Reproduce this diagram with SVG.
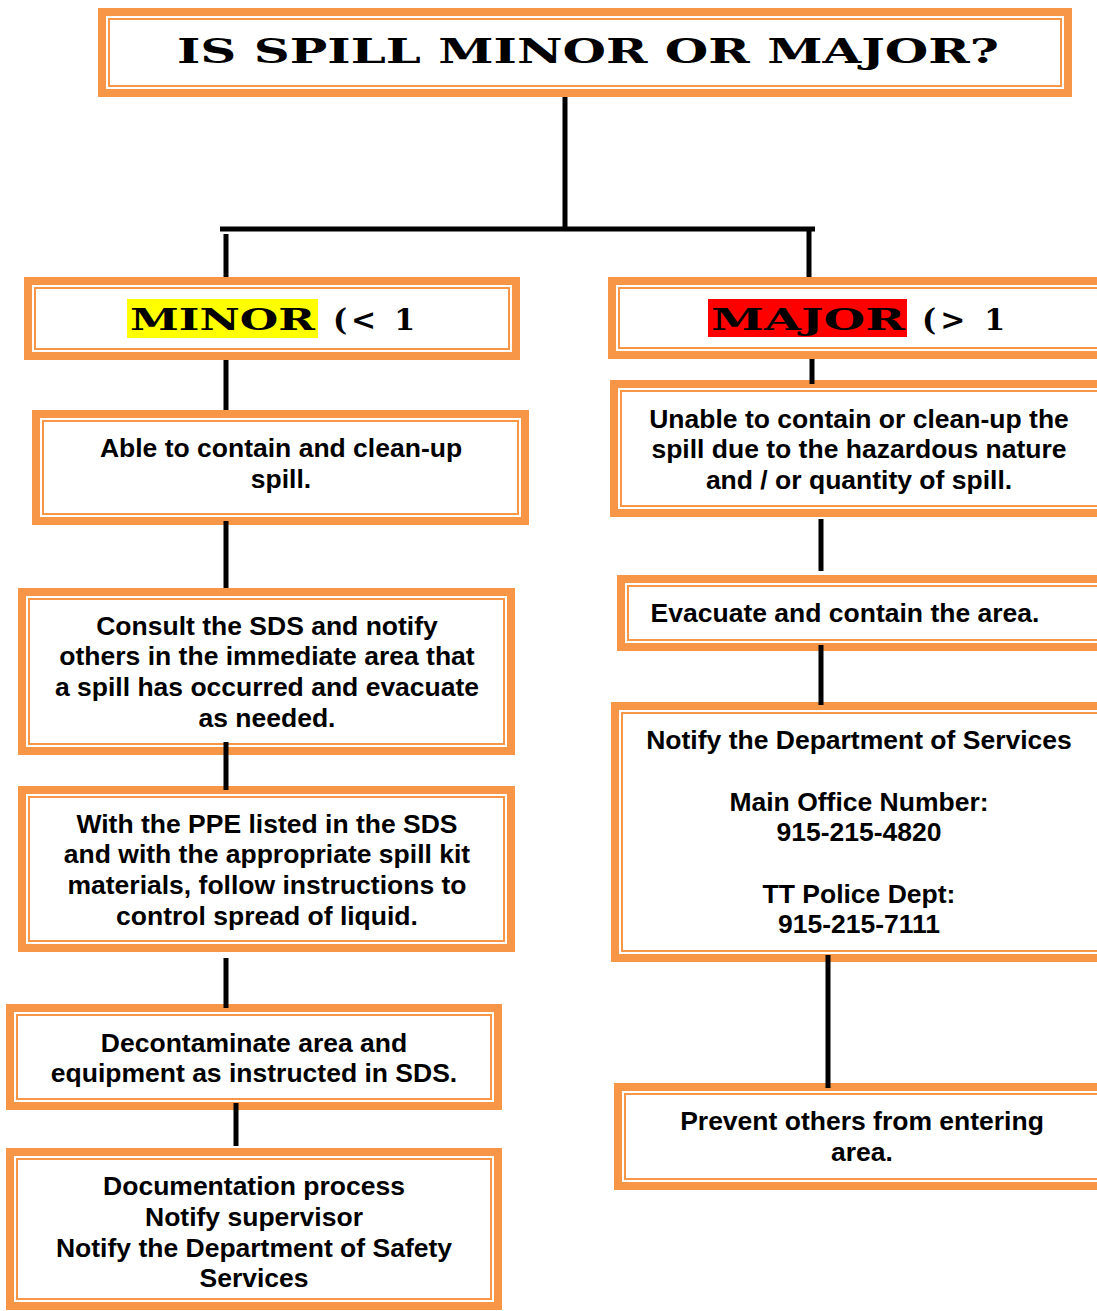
<svg xmlns="http://www.w3.org/2000/svg" width="1097" height="1311" viewBox="0 0 1097 1311">
<style>
.o{fill:#F79646}
.w{fill:#fff}
.i{fill:#fff;stroke:#F79646;stroke-width:2}
.t{font-family:"Liberation Sans",Arial,sans-serif;font-weight:bold;font-size:26.5px;fill:#000;text-anchor:middle}
.h{font-family:"DejaVu Serif","Liberation Serif",serif;font-weight:bold;fill:#000}
.c{stroke:#000;stroke-width:5;fill:none}
</style>
<rect width="1097" height="1311" fill="#fff"/>
<g id="title">
<rect class="o" x="98" y="8" width="974" height="89"/>
<rect class="w" x="106" y="16" width="958" height="73"/>
<rect class="i" x="109" y="19" width="952" height="67"/>
<text class="h" x="177" y="63" font-size="34" textLength="822" lengthAdjust="spacingAndGlyphs">IS SPILL MINOR OR MAJOR?</text>
</g>
<g id="minor">
<rect class="o" x="24" y="277" width="496" height="83"/>
<rect class="w" x="32" y="285" width="480" height="67"/>
<rect class="i" x="35" y="288" width="474" height="61"/>
<rect x="127" y="299" width="191" height="39" fill="#FFFF00"/>
<text class="h" x="130" y="330" font-size="30" textLength="185" lengthAdjust="spacingAndGlyphs">MINOR</text>
<text class="h" x="333" y="330" font-size="30" textLength="82" lengthAdjust="spacing">(&lt; 1</text>
</g>
<g id="major">
<rect class="o" x="608" y="277" width="502" height="82"/>
<rect class="w" x="616" y="285" width="490" height="66"/>
<rect class="i" x="619" y="288" width="490" height="60"/>
<rect x="708" y="299" width="199" height="38" fill="#FF0000"/>
<text class="h" x="711" y="330" font-size="30" textLength="194" lengthAdjust="spacingAndGlyphs">MAJOR</text>
<text class="h" x="922" y="330" font-size="30" textLength="83" lengthAdjust="spacing">(&gt; 1</text>
</g>
<g id="able">
<rect class="o" x="32" y="410" width="497" height="115"/>
<rect class="w" x="40" y="418" width="481" height="99"/>
<rect class="i" x="43" y="421" width="475" height="93"/>
<text class="t" x="281" y="457">Able to contain and clean-up</text>
<text class="t" x="281" y="488">spill.</text>
</g>
<g id="consult">
<rect class="o" x="18" y="588" width="497" height="167"/>
<rect class="w" x="26" y="596" width="481" height="151"/>
<rect class="i" x="29" y="599" width="475" height="145"/>
<text class="t" x="267" y="635">Consult the SDS and notify</text>
<text class="t" x="267" y="665">others in the immediate area that</text>
<text class="t" x="267" y="696">a spill has occurred and evacuate</text>
<text class="t" x="267" y="727">as needed.</text>
</g>
<g id="ppe">
<rect class="o" x="18" y="786" width="497" height="166"/>
<rect class="w" x="26" y="794" width="481" height="150"/>
<rect class="i" x="29" y="797" width="475" height="144"/>
<text class="t" x="267" y="833">With the PPE listed in the SDS</text>
<text class="t" x="267" y="863">and with the appropriate spill kit</text>
<text class="t" x="267" y="894">materials, follow instructions to</text>
<text class="t" x="267" y="925">control spread of liquid.</text>
</g>
<g id="decon">
<rect class="o" x="6" y="1004" width="496" height="106"/>
<rect class="w" x="14" y="1012" width="480" height="90"/>
<rect class="i" x="17" y="1015" width="474" height="84"/>
<text class="t" x="254" y="1052">Decontaminate area and</text>
<text class="t" x="254" y="1082">equipment as instructed in SDS.</text>
</g>
<g id="doc">
<rect class="o" x="6" y="1148" width="496" height="162"/>
<rect class="w" x="14" y="1156" width="480" height="146"/>
<rect class="i" x="17" y="1159" width="474" height="140"/>
<text class="t" x="254" y="1195">Documentation process</text>
<text class="t" x="254" y="1226">Notify supervisor</text>
<text class="t" x="254" y="1257">Notify the Department of Safety</text>
<text class="t" x="254" y="1287">Services</text>
</g>
<g id="unable">
<rect class="o" x="610" y="380" width="500" height="137"/>
<rect class="w" x="618" y="388" width="490" height="121"/>
<rect class="i" x="621" y="391" width="490" height="115"/>
<text class="t" x="859" y="428">Unable to contain or clean-up the</text>
<text class="t" x="859" y="458">spill due to the hazardous nature</text>
<text class="t" x="859" y="489">and / or quantity of spill.</text>
</g>
<g id="evacuate">
<rect class="o" x="617" y="575" width="493" height="76"/>
<rect class="w" x="625" y="583" width="485" height="60"/>
<rect class="i" x="628" y="586" width="485" height="54"/>
<text class="t" x="845" y="622">Evacuate and contain the area.</text>
</g>
<g id="notify">
<rect class="o" x="611" y="702" width="499" height="260"/>
<rect class="w" x="619" y="710" width="490" height="244"/>
<rect class="i" x="622" y="713" width="490" height="238"/>
<text class="t" x="859" y="749">Notify the Department of Services</text>
<text class="t" x="859" y="811">Main Office Number:</text>
<text class="t" x="859" y="841">915-215-4820</text>
<text class="t" x="859" y="903">TT Police Dept:</text>
<text class="t" x="859" y="933">915-215-7111</text>
</g>
<g id="prevent">
<rect class="o" x="614" y="1083" width="496" height="107"/>
<rect class="w" x="622" y="1091" width="490" height="91"/>
<rect class="i" x="625" y="1094" width="490" height="85"/>
<text class="t" x="862" y="1130">Prevent others from entering</text>
<text class="t" x="862" y="1161">area.</text>
</g>
<g id="connectors" class="c">
<line x1="565" y1="97" x2="565" y2="229"/>
<line x1="220" y1="229" x2="815" y2="229"/>
<line x1="226" y1="234" x2="226" y2="277"/>
<line x1="809" y1="229" x2="809" y2="277"/>
<line x1="226" y1="360" x2="226" y2="410"/>
<line x1="812" y1="359" x2="812" y2="384"/>
<line x1="226" y1="521" x2="226" y2="588"/>
<line x1="821" y1="519" x2="821" y2="571"/>
<line x1="226" y1="742" x2="226" y2="790"/>
<line x1="821" y1="645" x2="821" y2="705"/>
<line x1="226" y1="958" x2="226" y2="1008"/>
<line x1="828" y1="955" x2="828" y2="1088"/>
<line x1="236" y1="1103" x2="236" y2="1146"/>
</g>
</svg>
